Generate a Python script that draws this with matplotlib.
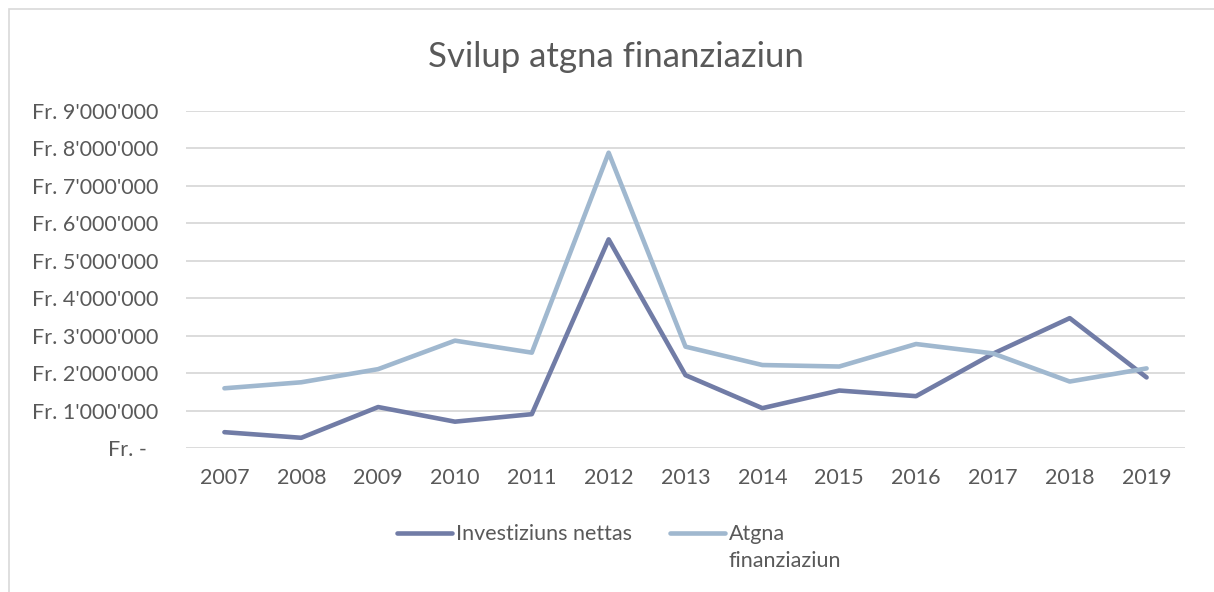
import matplotlib
matplotlib.use("Agg")
import matplotlib.pyplot as plt
from matplotlib.lines import Line2D
from matplotlib.patches import Rectangle
from matplotlib.ticker import FixedLocator, FixedFormatter

years = ["2007", "2008", "2009", "2010", "2011", "2012", "2013",
         "2014", "2015", "2016", "2017", "2018", "2019"]
investiziuns = [0.43, 0.28, 1.10, 0.71, 0.91, 5.57, 1.95,
                1.07, 1.54, 1.39, 2.52, 3.47, 1.89]          # Mio Fr.
atgna = [1.60, 1.76, 2.11, 2.87, 2.55, 7.88, 2.71,
         2.22, 2.18, 2.78, 2.53, 1.78, 2.13]                 # Mio Fr.
ytick_vals = [0, 1, 2, 3, 4, 5, 6, 7, 8, 9]
ytick_labels = ["Fr. -  "] + [f"Fr. {v}'000'000" for v in ytick_vals[1:]]
series_labels = ["Investiziuns nettas", "Atgna\nfinanziaziun"]
colors = ["#717ca6", "#a0b8cf"]

TXT = "#595959"
FS = 15.5
plt.rcParams["font.family"] = ["Lato", "DejaVu Sans"]

W, H = 1214, 592
fig = plt.figure(figsize=(W / 100, H / 100), dpi=100)
ax = fig.add_axes([186 / W, 1 - 448.3 / H, (1185 - 186) / W, (448.3 - 110.7) / H])

x = range(len(years))
for vals, c, lab in zip([investiziuns, atgna], colors, series_labels):
    ax.plot(x, vals, color=c, lw=3.3, solid_capstyle="round",
            solid_joinstyle="round", label=lab, zorder=3)

ax.set_xlim(-0.5, len(years) - 0.5)
ax.set_ylim(0, 9)
ax.set_xticks(list(x))
ax.set_xticklabels(years)
ax.yaxis.set_major_locator(FixedLocator(ytick_vals))
ax.yaxis.set_major_formatter(FixedFormatter(ytick_labels))
ax.grid(axis="y", color="#d9d9d9", lw=1.3, zorder=0)
for s in ax.spines.values():
    s.set_visible(False)
ax.tick_params(axis="both", length=0, labelsize=FS, colors=TXT)
ax.tick_params(axis="y", pad=20)
ax.tick_params(axis="x", pad=14)

fig.text(616 / W, 1 - 57 / H, "Svilup atgna finanziaziun", ha="center", va="center",
         fontsize=25, color=TXT)

# legend drawn by hand so the handle lines up with the first text line
leg_y = 1 - 533 / H
for x0, c, lab in zip([397, 670], colors, series_labels):
    fig.add_artist(Line2D([x0 / W, (x0 + 55) / W], [leg_y, leg_y], transform=fig.transFigure,
                          color=c, lw=3.3, solid_capstyle="round"))
    fig.text((x0 + 59) / W, leg_y + 9 / H, lab, ha="left", va="top", fontsize=FS,
             color=TXT, linespacing=1.45)

fig.add_artist(Rectangle((9 / W, -0.01), 1.1, 1 - 9 / H + 0.01, transform=fig.transFigure,
                         fill=False, edgecolor="#d9d9d9", lw=1.2))

fig.savefig("out.png", dpi=100)
